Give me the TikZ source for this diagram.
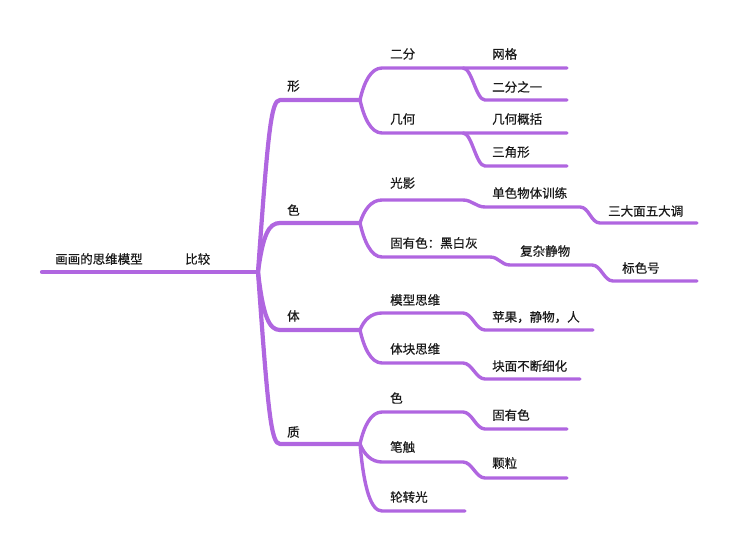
\documentclass[tikz,border=0pt]{standalone}
\usepackage{fontspec}
\newfontfamily\cjk[FakeBold=0.6]{Noto Sans CJK SC}
\usepackage{tikz}
\definecolor{mapviolet}{HTML}{B066E0}
\definecolor{mapink}{HTML}{1A1A1A}

\begin{document}
\begin{tikzpicture}[x=1pt,y=-1pt,font=\cjk\fontsize{12.5}{15}\selectfont]
\tikzset{lbl/.style={anchor=west,inner sep=0pt,text=mapink},
branch/.style={draw=mapviolet,line width=3.4pt,line cap=round,line join=round},
trunk/.style={branch,line width=4.2pt}}
\useasboundingbox (0,0) rectangle (755,543);
% trunk and first level
\coordinate (root) at (42,272);
\coordinate (hub) at (258,272);
\coordinate (xing) at (280,100);  \coordinate (xingH) at (360,100);
\coordinate (se) at (280,223);    \coordinate (seH) at (360,223);
\coordinate (ti) at (280,330);    \coordinate (tiH) at (360,330);
\coordinate (zhi) at (280,444);   \coordinate (zhiH) at (360,444);
% second and third level
\coordinate (erfen) at (382,68);   \coordinate (erfenM) at (463,68);  \coordinate (wangge) at (567,68);
\coordinate (yiban) at (485,100);  \coordinate (yibanE) at (567,100);
\coordinate (jihe) at (382,133);   \coordinate (jiheM) at (463,133);  \coordinate (gaikuo) at (567,133);
\coordinate (sanjiao) at (485,166); \coordinate (sanjiaoE) at (567,166);
\coordinate (guang) at (382,200);  \coordinate (guangM) at (463,200);
\coordinate (danse) at (485,207);  \coordinate (danseM) at (580,207);
\coordinate (sanda) at (600,223);  \coordinate (sandaE) at (697,223);
\coordinate (guyou) at (382,257);  \coordinate (guyouM) at (490,257);
\coordinate (fuza) at (510,265);   \coordinate (fuzaM) at (592,265);
\coordinate (biao) at (613,281);   \coordinate (biaoE) at (697,281);
\coordinate (moxing) at (382,313); \coordinate (moxingM) at (463,313);
\coordinate (pingguo) at (485,330); \coordinate (pingguoE) at (593,330);
\coordinate (tikuai) at (382,363); \coordinate (tikuaiM) at (463,363);
\coordinate (kuaimian) at (485,379); \coordinate (kuaimianE) at (580,379);
\coordinate (zse) at (382,412);    \coordinate (zseM) at (463,412);
\coordinate (guyouse) at (485,429); \coordinate (guyouseE) at (567,429);
\coordinate (bichu) at (382,462);  \coordinate (bichuM) at (463,462);
\coordinate (keli) at (485,478);   \coordinate (keliE) at (567,478);
\coordinate (lunzhuan) at (382,511); \coordinate (lunzhuanE) at (465,511);

\draw[trunk] (root) -- (hub);
\draw[trunk] (hub) .. controls +(10,-140) and +(-9,0) .. (xing) -- (xingH);
\draw[trunk] (hub) .. controls +(5,-38) and +(-11,0) .. (se) -- (seH);
\draw[trunk] (hub) .. controls +(5,44) and +(-11,0) .. (ti) -- (tiH);
\draw[trunk] (hub) .. controls +(10,140) and +(-9,0) .. (zhi) -- (zhiH);

\draw[branch] (xingH) .. controls +(4,-18) and +(-11,0) .. (erfen) -- (erfenM) -- (wangge);
\draw[branch] (erfenM) .. controls +(9,0) and +(-9,0) .. (yiban) -- (yibanE);
\draw[branch] (xingH) .. controls +(4,18) and +(-11,0) .. (jihe) -- (jiheM) -- (gaikuo);
\draw[branch] (jiheM) .. controls +(9,0) and +(-9,0) .. (sanjiao) -- (sanjiaoE);

\draw[branch] (seH) .. controls +(4,-13) and +(-11,0) .. (guang) -- (guangM)
  .. controls +(9,0) and +(-9,0) .. (danse) -- (danseM)
  .. controls +(9,0) and +(-9,0) .. (sanda) -- (sandaE);
\draw[branch] (seH) .. controls +(4,18) and +(-11,0) .. (guyou) -- (guyouM)
  .. controls +(9,0) and +(-9,0) .. (fuza) -- (fuzaM)
  .. controls +(9,0) and +(-9,0) .. (biao) -- (biaoE);

\draw[branch] (tiH) .. controls +(4,-10) and +(-11,0) .. (moxing) -- (moxingM)
  .. controls +(9,0) and +(-9,0) .. (pingguo) -- (pingguoE);
\draw[branch] (tiH) .. controls +(4,18) and +(-11,0) .. (tikuai) -- (tikuaiM)
  .. controls +(9,0) and +(-9,0) .. (kuaimian) -- (kuaimianE);

\draw[branch] (zhiH) .. controls +(4,-18) and +(-11,0) .. (zse) -- (zseM)
  .. controls +(9,0) and +(-9,0) .. (guyouse) -- (guyouseE);
\draw[branch] (zhiH) .. controls +(4,10) and +(-11,0) .. (bichu) -- (bichuM)
  .. controls +(9,0) and +(-9,0) .. (keli) -- (keliE);
\draw[branch] (zhiH) .. controls +(4,45) and +(-11,0) .. (lunzhuan) -- (lunzhuanE);

% labels
\node[lbl] (tRoot) at (55,259) {画画的思维模型};
\node[lbl] (tBijiao) at (185,259) {比较};
\node[lbl] (tXing) at (287,86) {形};
\node[lbl] (tSe) at (287,210) {色};
\node[lbl] (tTi) at (287,316) {体};
\node[lbl] (tZhi) at (287,432) {质};
\node[lbl] (tErfen) at (390,54) {二分};
\node[lbl] (tWangge) at (492,54) {网格};
\node[lbl] (tYiban) at (492,87) {二分之一};
\node[lbl] (tJihe) at (390,119) {几何};
\node[lbl] (tGaikuo) at (492,119) {几何概括};
\node[lbl] (tSanjiao) at (492,152) {三角形};
\node[lbl] (tGuang) at (390,183) {光影};
\node[lbl] (tDanse) at (492,193) {单色物体训练};
\node[lbl] (tSanda) at (608,211) {三大面五大调};
\node[lbl] (tGuyou) at (390,243) {固有色：黑白灰};
\node[lbl] (tFuza) at (520,251) {复杂静物};
\node[lbl] (tBiao) at (622,268) {标色号};
\node[lbl] (tMoxing) at (390,300) {模型思维};
\node[lbl] (tPingguo) at (492,317) {苹果，静物，人};
\node[lbl] (tTikuai) at (390,349) {体块思维};
\node[lbl] (tKuaimian) at (492,366) {块面不断细化};
\node[lbl] (tZse) at (390,398) {色};
\node[lbl] (tGuyouse) at (492,415) {固有色};
\node[lbl] (tBichu) at (390,447) {笔触};
\node[lbl] (tKeli) at (492,463) {颗粒};
\node[lbl] (tLunzhuan) at (390,497) {轮转光};
\end{tikzpicture}
\end{document}
